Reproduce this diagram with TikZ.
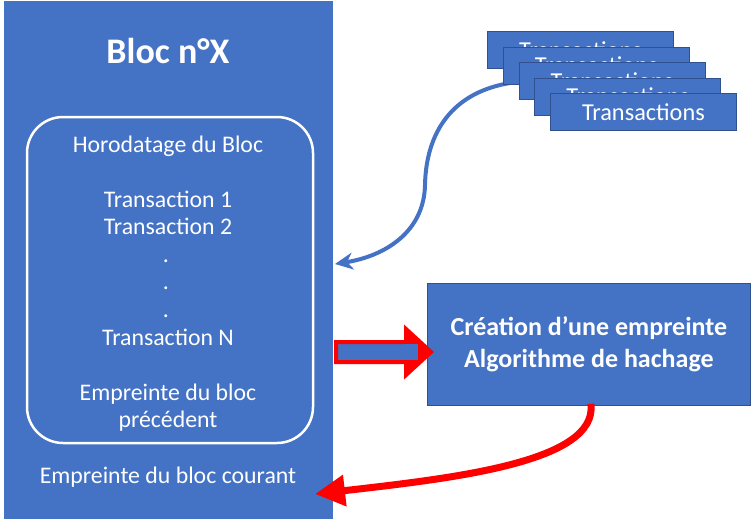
\documentclass[tikz,border=0pt]{standalone}
\usepackage{fontspec}
\setmainfont{Carlito}
\usetikzlibrary{arrows.meta,calc}
\definecolor{bblue}{HTML}{4472C4}
\definecolor{dblue}{HTML}{2F528F}
\definecolor{rred}{HTML}{FF0000}
\begin{document}
\begin{tikzpicture}[x=1pt,y=-1pt,
  txt/.style={text=white,anchor=base,font=\fontsize{23.8}{28}\selectfont,inner sep=0pt},
  txbox/.style={draw=dblue,line width=0.8pt,fill=bblue,text=white,anchor=north west,
    minimum width=186pt,minimum height=37pt,inner sep=0pt,font=\fontsize{24.3}{28}\selectfont},
  bluearrow/.style={draw=bblue,line width=4pt,-{Stealth[length=18pt,width=17pt]}},
  redarrow/.style={draw=rred,line width=7pt,-{Triangle[length=30pt,width=30pt]}},
  hollow/.style={draw=rred,line width=4pt,fill=bblue,line join=miter}]
\useasboundingbox (0,0) rectangle (754,530);
\fill[white] (0,0) rectangle (754,530);

% main block
\node[fill=bblue,minimum width=329pt,minimum height=518pt,anchor=north west,inner sep=0pt] (blk) at (4,1) {};
\node[text=white,anchor=base,inner sep=0pt,font=\bfseries\fontsize{36}{42}\selectfont] (title) at (168,63) {Bloc n°X};
\draw[white,line width=2.5pt,rounded corners=36pt] (27,117) rectangle (313,443);
\node[txt] (h) at (168,152) {Horodatage du Bloc};
\node[txt] (t1) at (168,207) {Transaction 1};
\node[txt] (t2) at (168,234) {Transaction 2};
\node[txt] (d1) at (166,262) {.};
\node[txt] (d2) at (166,289) {.};
\node[txt] (d3) at (166,317) {.};
\node[txt] (tn) at (168,345) {Transaction N};
\node[txt] (e1) at (168,400) {Empreinte du bloc};
\node[txt] (e2) at (168,427) {précédent};
\node[txt] (cur) at (168,483) {Empreinte du bloc courant};

% blue curved arrow (drawn under the stack)
\coordinate (bstart) at (517,82);
\coordinate (bend) at (335,264);
\draw[bluearrow] (bstart) .. controls (450,90) and (426,135) .. (425,185)
  .. controls (424,232) and (385,256) .. (bend);

% transaction stack
\foreach \i in {0,...,4}{
  \node[txbox] (tx\i) at ({487+15.75*\i},{31+15.5*\i}) {Transactions};
}

% hash box
\node[fill=bblue,draw=dblue,line width=0.8pt,minimum width=323pt,minimum height=122pt,
  anchor=north west,inner sep=0pt,text=white,align=center,
  font=\bfseries\fontsize{26}{31.5}\selectfont] (hash) at (427,283)
  {Création d’une empreinte\\Algorithme de hachage};

% hollow red arrow
\coordinate (ha) at (336,352);
\coordinate (hb) at (431,352);
\draw[hollow] ($(ha)+(0,-10)$) -- ($(hb)+(-25,-10)$) -- ($(hb)+(-25,-23)$) -- (hb)
  -- ($(hb)+(-25,23)$) -- ($(hb)+(-25,10)$) -- ($(ha)+(0,10)$) -- cycle;
\fill[rred] ($(hb)+(-25,-23)$) -- (hb) -- ($(hb)+(-25,23)$) -- cycle;
\fill[bblue] ($(hb)+(-27,-8)$) rectangle ($(hb)+(-13,8)$);

% red curved arrow
\coordinate (rstart) at ($(hash.south)+(2,-2)$);
\coordinate (rend) at (315,494);
\draw[redarrow] (rstart) .. controls (598,462) and (455,478) .. (rend);
\end{tikzpicture}
\end{document}
